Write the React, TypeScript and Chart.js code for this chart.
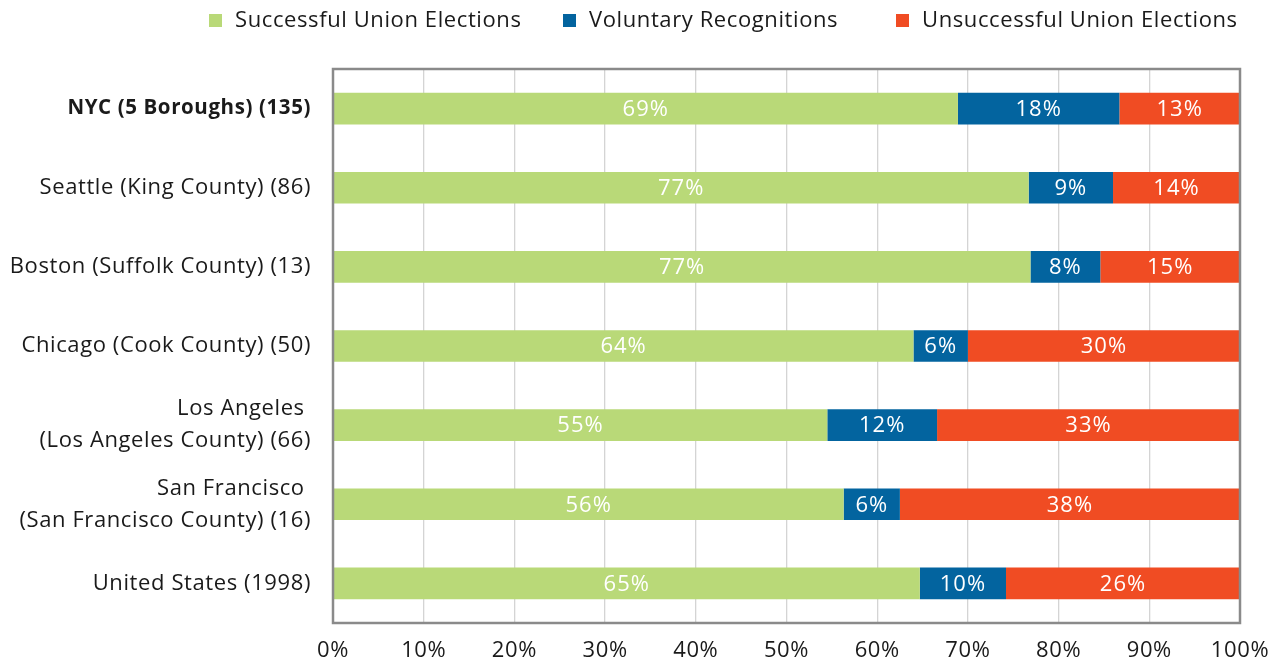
import React, { useEffect, useRef } from "react";
import { Chart, registerables } from "chart.js";

Chart.register(...registerables);

const categories: (string | string[])[] = [
  "NYC (5 Boroughs) (135)",
  "Seattle (King County) (86)",
  "Boston (Suffolk County) (13)",
  "Chicago (Cook County) (50)",
  ["Los Angeles ", "(Los Angeles County) (66)"],
  ["San Francisco ", "(San Francisco County) (16)"],
  "United States (1998)",
];

const seriesNames = [
  "Successful Union Elections",
  "Voluntary Recognitions",
  "Unsuccessful Union Elections",
];
const seriesColors = ["#B9D978", "#03649F", "#F04C23"];

const successful = [68.9, 76.7, 76.9, 64.0, 54.5, 56.3, 64.7];
const voluntary = [17.8, 9.3, 7.7, 6.0, 12.1, 6.2, 9.5];
const unsuccessful = [13.3, 14.0, 15.4, 30.0, 33.4, 37.5, 25.8];

const xTickValues = [0, 10, 20, 30, 40, 50, 60, 70, 80, 90, 100];

const FONT = "'Open Sans', Lato, sans-serif";

const legendBoxX = [209, 563, 896];

export default function App() {
  const ref = useRef<HTMLCanvasElement | null>(null);

  useEffect(() => {
    if (!ref.current) return;

    const spacing = {
      id: "spacing",
      beforeDraw(chart: any) {
        chart.ctx.letterSpacing = "0.6px";
      },
    };

    const frame = {
      id: "frame",
      afterDatasetsDraw(chart: any) {
        const { ctx, chartArea } = chart;
        ctx.save();
        ctx.strokeStyle = "#8a8a8a";
        ctx.lineWidth = 2.5;
        ctx.strokeRect(
          chartArea.left,
          chartArea.top,
          chartArea.right - chartArea.left,
          chartArea.bottom - chartArea.top
        );
        ctx.restore();
      },
    };

    const barLabels = {
      id: "barLabels",
      afterDatasetsDraw(chart: any) {
        const { ctx } = chart;
        ctx.save();
        ctx.letterSpacing = "1px";
        ctx.font = `22px ${FONT}`;
        ctx.fillStyle = "#ffffff";
        ctx.textAlign = "center";
        ctx.textBaseline = "middle";
        chart.data.datasets.forEach((ds: any, di: number) => {
          const meta = chart.getDatasetMeta(di);
          meta.data.forEach((bar: any, i: number) => {
            const v = ds.data[i];
            const cx = (bar.x + bar.base) / 2;
            ctx.fillText(`${Math.round(v)}%`, cx, bar.y + 1);
          });
        });
        ctx.restore();
      },
    };

    const legendPlugin = {
      id: "customLegend",
      afterDraw(chart: any) {
        const { ctx } = chart;
        ctx.save();
        ctx.letterSpacing = "0.6px";
        ctx.font = `22px ${FONT}`;
        ctx.textBaseline = "middle";
        ctx.textAlign = "left";
        chart.data.datasets.forEach((ds: any, i: number) => {
          const bx = legendBoxX[i];
          ctx.fillStyle = ds.backgroundColor;
          ctx.fillRect(bx, 14, 13, 13);
          ctx.fillStyle = "#1a1a1a";
          ctx.fillText(ds.label, bx + 26, 21);
        });
        ctx.restore();
      },
    };

    const chart = new Chart(ref.current, {
      type: "bar",
      data: {
        labels: categories as any,
        datasets: [successful, voluntary, unsuccessful].map((d, i) => ({
          label: seriesNames[i],
          data: d,
          backgroundColor: seriesColors[i],
          borderWidth: 0,
          barPercentage: 0.4,
          categoryPercentage: 1,
        })),
      },
      options: {
        indexAxis: "y",
        animation: false,
        responsive: true,
        maintainAspectRatio: false,
        layout: { padding: { top: 69, right: 38, bottom: 0, left: 0 } },
        plugins: {
          legend: { display: false },
          tooltip: { enabled: false },
        },
        scales: {
          x: {
            stacked: true,
            min: 0,
            max: 100,
            afterBuildTicks: (scale: any) => {
              scale.ticks = xTickValues.map((v) => ({ value: v }));
            },
            afterFit: (scale: any) => {
              scale.height = 41;
              scale.paddingLeft = 0;
              scale.paddingRight = 0;
            },
            ticks: {
              callback: (v: any) => `${v}%`,
              font: { family: FONT, size: 22, lineHeight: 1.2 },
              color: "#1a1a1a",
              padding: 15,
              maxRotation: 0,
            },
            grid: { color: "#d4d4d4", lineWidth: 1.3, drawTicks: false },
            border: { display: false },
          },
          y: {
            stacked: true,
            afterFit: (scale: any) => {
              scale.width = 333;
            },
            ticks: {
              font: (ctx: any) => ({
                family: FONT,
                size: ctx.index === 0 ? 20.5 : 22,
                lineHeight: 1.45,
                weight: ctx.index === 0 ? "bold" : "normal",
              }),
              color: "#1a1a1a",
              padding: 22,
            },
            grid: { display: false, drawTicks: false },
            border: { display: false },
          },
        },
      },
      plugins: [spacing, frame, barLabels, legendPlugin],
    });

    return () => chart.destroy();
  }, []);

  return (
    <div
      style={{
        position: "absolute",
        left: 0,
        top: 0,
        width: "1278px",
        height: "664px",
        background: "#ffffff",
      }}
    >
      <canvas ref={ref} />
    </div>
  );
}
